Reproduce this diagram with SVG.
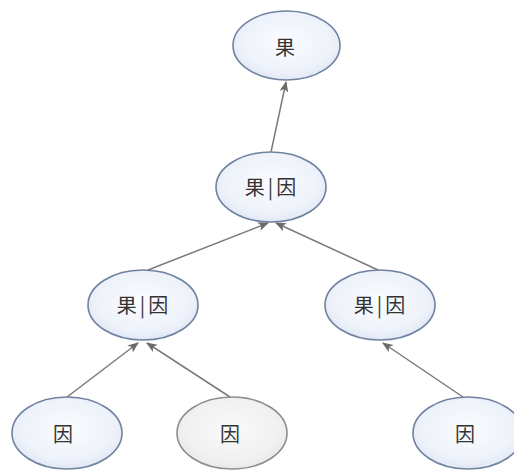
<svg xmlns="http://www.w3.org/2000/svg" width="514" height="470" viewBox="0 0 514 470">
<defs>
<radialGradient id="gb" cx="50%" cy="45%" r="60%">
<stop offset="0" stop-color="#fafcff"/>
<stop offset="0.7" stop-color="#eef2fa"/>
<stop offset="1" stop-color="#dde5f3"/>
</radialGradient>
<radialGradient id="gg" cx="50%" cy="45%" r="60%">
<stop offset="0" stop-color="#fafafa"/>
<stop offset="0.7" stop-color="#f1f1f1"/>
<stop offset="1" stop-color="#e6e6e6"/>
</radialGradient>
<marker id="ah" viewBox="0 0 10 10" refX="9" refY="5" markerWidth="11" markerHeight="11" markerUnits="userSpaceOnUse" orient="auto">
<path d="M0,1 L10,5 L0,9 L2.5,5 Z" fill="#6a6a6a"/>
</marker>
<style>
.n{fill:url(#gb);stroke:#6f82a0;stroke-width:1.6}
.g{fill:url(#gg);stroke:#8e8e8e;stroke-width:1.6}
.t{font-family:"Noto Sans CJK SC","Noto Sans CJK JP",sans-serif;font-size:20px;fill:#333;text-anchor:middle;dominant-baseline:central}
.s{letter-spacing:3px}
.c{stroke:#7a7a7a;stroke-width:1.5;fill:none;marker-end:url(#ah)}
</style>
</defs>
<rect width="514" height="470" fill="#ffffff"/>
<g id="connectors">
<line class="c" x1="271" y1="152" x2="286" y2="82"/>
<line class="c" x1="148" y1="270" x2="268" y2="223"/>
<line class="c" x1="378" y1="270" x2="276" y2="223"/>
<line class="c" x1="67" y1="397" x2="138" y2="343"/>
<line class="c" x1="230" y1="397" x2="147" y2="343"/>
<line class="c" x1="463" y1="397" x2="383" y2="343"/>
</g>
<g id="n1"><ellipse class="n" cx="286.5" cy="45.5" rx="53.5" ry="34.5"/><text class="t" x="285" y="46">果</text></g>
<g id="n2"><ellipse class="n" cx="271" cy="187" rx="55" ry="35"/><text class="t s" x="272" y="186">果|因</text></g>
<g id="n3"><ellipse class="n" cx="143" cy="305" rx="55" ry="35"/><text class="t s" x="144" y="304">果|因</text></g>
<g id="n4"><ellipse class="n" cx="380" cy="305" rx="55" ry="35"/><text class="t s" x="381" y="304">果|因</text></g>
<g id="n5"><ellipse class="n" cx="67" cy="433" rx="55" ry="36"/><text class="t" x="63" y="433">因</text></g>
<g id="n6"><ellipse class="g" cx="232" cy="433" rx="55" ry="36"/><text class="t" x="230" y="433">因</text></g>
<g id="n7"><ellipse class="n" cx="468" cy="433" rx="55" ry="36"/><text class="t" x="465" y="433">因</text></g>
</svg>
